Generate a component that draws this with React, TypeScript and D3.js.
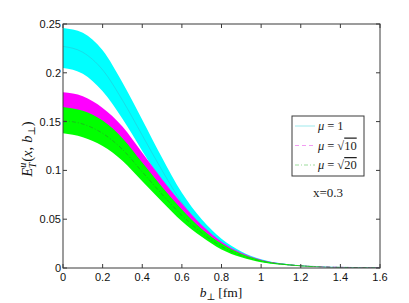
import * as d3 from 'd3';

const W = 409;
const H = 303;
const MARGIN = { top: 24, right: 29, bottom: 35, left: 63 };

// b_perp grid [fm]
const bValues = [0, 0.1, 0.2, 0.3, 0.4, 0.5, 0.6, 0.7, 0.8, 0.9, 1.0, 1.1, 1.2, 1.3, 1.4, 1.5, 1.6];

// mu = 1 (cyan band)
const mu1Upper = [0.246, 0.241, 0.223, 0.19, 0.152, 0.113, 0.077, 0.05, 0.03, 0.017, 0.009, 0.0048, 0.0026, 0.0014, 0.0008, 0.0004, 0.0002];
const mu1Center = [0.227, 0.221, 0.203, 0.172, 0.136, 0.1, 0.067, 0.043, 0.0255, 0.0145, 0.0078, 0.0042, 0.0023, 0.0013, 0.0007, 0.0004, 0.0002];
const mu1Lower = [0.205, 0.199, 0.181, 0.153, 0.12, 0.088, 0.058, 0.036, 0.021, 0.012, 0.0065, 0.0036, 0.002, 0.0011, 0.0006, 0.0003, 0.0002];

// mu = sqrt(10) (magenta band)
const mu10Upper = [0.18, 0.176, 0.164, 0.145, 0.118, 0.091, 0.066, 0.044, 0.027, 0.0155, 0.0085, 0.0047, 0.0026, 0.0014, 0.0008, 0.0004, 0.0002];
const mu10Center = [0.163, 0.16, 0.149, 0.132, 0.107, 0.082, 0.059, 0.039, 0.024, 0.014, 0.0076, 0.0042, 0.0023, 0.0013, 0.0007, 0.0004, 0.0002];
const mu10Lower = [0.146, 0.143, 0.134, 0.118, 0.096, 0.073, 0.052, 0.035, 0.021, 0.0122, 0.0067, 0.0037, 0.002, 0.0011, 0.0006, 0.0003, 0.0002];

// mu = sqrt(20) (green band)
const mu20Upper = [0.165, 0.161, 0.151, 0.133, 0.108, 0.083, 0.06, 0.04, 0.025, 0.0145, 0.008, 0.0045, 0.0025, 0.0014, 0.0008, 0.0004, 0.0002];
const mu20Center = [0.151, 0.1475, 0.138, 0.1215, 0.0985, 0.0755, 0.054, 0.036, 0.022, 0.0128, 0.007, 0.004, 0.0022, 0.0012, 0.0007, 0.0004, 0.0002];
const mu20Lower = [0.138, 0.134, 0.125, 0.11, 0.089, 0.068, 0.048, 0.032, 0.019, 0.011, 0.006, 0.0034, 0.0019, 0.0011, 0.0006, 0.0003, 0.0002];

const xTicks = [0, 0.2, 0.4, 0.6, 0.8, 1, 1.2, 1.4, 1.6];
const yTicks = [0, 0.05, 0.1, 0.15, 0.2, 0.25];

const bands = [
  { fill: '#00ffff', line: '#28c6d6', legend: '#9fe9ec', dash: null, upper: mu1Upper, center: mu1Center, lower: mu1Lower },
  { fill: '#ff00ff', line: '#e000e0', legend: '#f29cf2', dash: '4,3', upper: mu10Upper, center: mu10Center, lower: mu10Lower },
  { fill: '#00ff00', line: '#2e8f2e', legend: '#9ddc9d', dash: '4,2,1,2', upper: mu20Upper, center: mu20Center, lower: mu20Lower },
];

const fmt = (v: number) => (v === 0 ? '0' : String(+v.toFixed(2)));

export default function App() {
  const x = d3.scaleLinear().domain([0, 1.6]).range([MARGIN.left, W - MARGIN.right]);
  const y = d3.scaleLinear().domain([0, 0.25]).range([H - MARGIN.bottom, MARGIN.top]);
  const x0 = MARGIN.left;
  const x1 = W - MARGIN.right;
  const y0 = H - MARGIN.bottom;
  const y1 = MARGIN.top;
  const axis = '#3a3a3a';
  const tickLen = 4;

  const area = (up: number[], lo: number[]) =>
    d3
      .area<number>()
      .curve(d3.curveMonotoneX)
      .x(i => x(bValues[i]))
      .y0(i => y(lo[i]))
      .y1(i => y(up[i]))(bValues.map((_, i) => i)) || '';
  const line = (vals: number[]) =>
    d3
      .line<number>()
      .curve(d3.curveMonotoneX)
      .x(i => x(bValues[i]))
      .y(i => y(vals[i]))(bValues.map((_, i) => i)) || '';

  const serif = '"Liberation Serif", "DejaVu Serif", serif';
  const sans = '"Liberation Sans", Arial, sans-serif';

  // legend
  const lg = { x: 292, y: 116, w: 72, h: 60 };
  const legendRows = [
    { label: '1', sqrt: false },
    { label: '10', sqrt: true },
    { label: '20', sqrt: true },
  ];

  return (
    <svg width={W} height={H} style={{ position: 'absolute', left: 0, top: 0, background: '#fff' }}>
      <defs>
        <clipPath id="plotClip">
          <rect x={x0} y={y1} width={x1 - x0} height={y0 - y1} />
        </clipPath>
      </defs>
      <g clipPath="url(#plotClip)">
        {bands.map((b, k) => (
          <g key={k}>
            <path d={area(b.upper, b.lower)} fill={b.fill} stroke="none" />
            <path
              d={line(b.center)}
              fill="none"
              stroke={b.line}
              strokeWidth={0.6}
              strokeDasharray={b.dash || undefined}
            />
          </g>
        ))}
      </g>

      {/* axes box */}
      <rect x={x0} y={y1} width={x1 - x0} height={y0 - y1} fill="none" stroke={axis} strokeWidth={1} />

      {xTicks.map(t => (
        <g key={'x' + t}>
          <line x1={x(t)} x2={x(t)} y1={y0} y2={y0 - tickLen} stroke={axis} />
          <line x1={x(t)} x2={x(t)} y1={y1} y2={y1 + tickLen} stroke={axis} />
          <text x={x(t)} y={y0 + 13} textAnchor="middle" fontFamily={sans} fontSize={11} fill="#111">
            {fmt(t)}
          </text>
        </g>
      ))}
      {yTicks.map(t => (
        <g key={'y' + t}>
          <line x1={x0} x2={x0 + tickLen} y1={y(t)} y2={y(t)} stroke={axis} />
          <line x1={x1} x2={x1 - tickLen} y1={y(t)} y2={y(t)} stroke={axis} />
          <text x={x0 - 2} y={y(t) + 4} textAnchor="end" fontFamily={sans} fontSize={11} fill="#111">
            {fmt(t)}
          </text>
        </g>
      ))}

      {/* x label */}
      <text x={221} y={297} textAnchor="middle" fontFamily={serif} fontSize={13.5} fill="#111">
        <tspan fontStyle="italic">b</tspan>
        <tspan fontSize={9.5} dy={3}>⊥</tspan>
        <tspan dy={-3} dx={3}>[fm]</tspan>
      </text>

      {/* y label */}
      <text
        transform={`translate(32,${(y0 + y1) / 2 + 3}) rotate(-90)`}
        textAnchor="middle"
        fontFamily={serif}
        fontSize={14.5}
        fill="#111"
      >
        <tspan fontStyle="italic">E</tspan>
        <tspan fontStyle="italic" fontSize={10} dy={-6}>u</tspan>
        <tspan fontStyle="italic" fontSize={10} dx={-5.5} dy={10}>T</tspan>
        <tspan dy={-4} dx={1}>(</tspan>
        <tspan fontStyle="italic">x</tspan>
        <tspan>,</tspan>
        <tspan fontStyle="italic" dx={4}>b</tspan>
        <tspan fontSize={10} dy={3}>⊥</tspan>
        <tspan dy={-3}>)</tspan>
      </text>

      {/* legend */}
      <rect x={lg.x} y={lg.y} width={lg.w} height={lg.h} fill="#fff" stroke={axis} strokeWidth={1} />
      {legendRows.map((r, k) => {
        const ry = lg.y + 10 + k * 19.5;
        const b = bands[k];
        return (
          <g key={'lg' + k}>
            <line
              x1={lg.x + 3}
              x2={lg.x + 23}
              y1={ry}
              y2={ry}
              stroke={b.legend}
              strokeWidth={1}
              strokeDasharray={b.dash || undefined}
            />
            <text x={lg.x + 26} y={ry + 4} fontFamily={serif} fontSize={12.5} fill="#222">
              <tspan fontStyle="italic">μ</tspan>
              <tspan dx={3}>=</tspan>
              {r.sqrt ? (
                <>
                  <tspan dx={3}>√</tspan>
                  <tspan style={{ textDecoration: 'overline' }}>{r.label}</tspan>
                </>
              ) : (
                <tspan dx={3}>{r.label}</tspan>
              )}
            </text>
          </g>
        );
      })}

      <text x={313} y={197} fontFamily={serif} fontSize={13} fill="#222">
        x=0.3
      </text>
    </svg>
  );
}
